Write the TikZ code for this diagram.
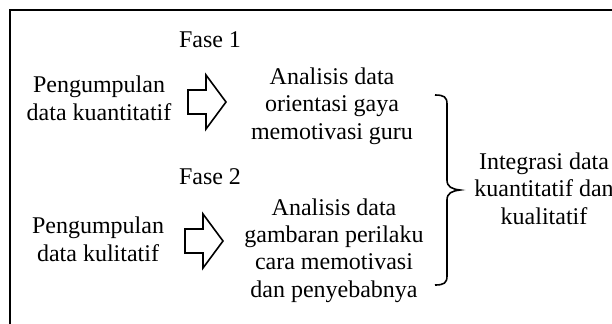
\documentclass[tikz,border=0pt]{standalone}
\usepackage{fontspec}
\setmainfont{Liberation Serif}

\begin{document}
\begin{tikzpicture}[x=0.5pt,y=-0.5pt,
        teks/.style={align=center,anchor=base,inner sep=0pt,
            font=\fontsize{12pt}{13.6pt}\selectfont},
        blok/.style={draw,line width=0.8pt,line join=miter},
        kurung/.style={draw,line width=0.8pt}]
    \clip (0,0) rectangle (612,323);
    \draw[line width=1.4pt] (10,340) -- (10,10) -- (630,10);
    % fase
    \node[teks] (fase1) at (210,47) {Fase 1};
    \node[teks] (fase2) at (210,184) {Fase 2};
    % pengumpulan data (base = baris terakhir)
    \node[teks] (kuan) at (99,120) {Pengumpulan\\data kuantitatif};
    \node[teks] (kual) at (98,261) {Pengumpulan\\data kulitatif};
    % analisis
    \node[teks] (ana1) at (332,139) {Analisis data\\orientasi gaya\\memotivasi guru};
    \node[teks] (ana2) at (334,297) {Analisis data\\gambaran perilaku\\cara memotivasi\\dan penyebabnya};
    \node[teks] (integ) at (544,224) {Integrasi data\\kuantitatif dan\\kualitatif};
    % panah blok
    \foreach \x/\y in {188/102,185/241}
        \draw[blok] (\x,\y-12) -- ++(18,0) -- ++(0,-15) -- (\x+38,\y)
            -- (\x+18,\y+27) -- ++(0,-15) -- (\x,\y+12) -- cycle;
    % kurung kurawal
    \coordinate (bratas) at (435,95);
    \coordinate (brujung) at (460,190);
    \coordinate (brbawah) at (435,285);
    \draw[kurung] (bratas) .. controls (444,95) and (447,97) .. (447,104)
        -- (447,180) .. controls (447,187) and (452,189) .. (brujung)
        .. controls (452,191) and (447,193) .. (447,200)
        -- (447,276) .. controls (447,283) and (444,285) .. (brbawah);
\end{tikzpicture}
\end{document}
